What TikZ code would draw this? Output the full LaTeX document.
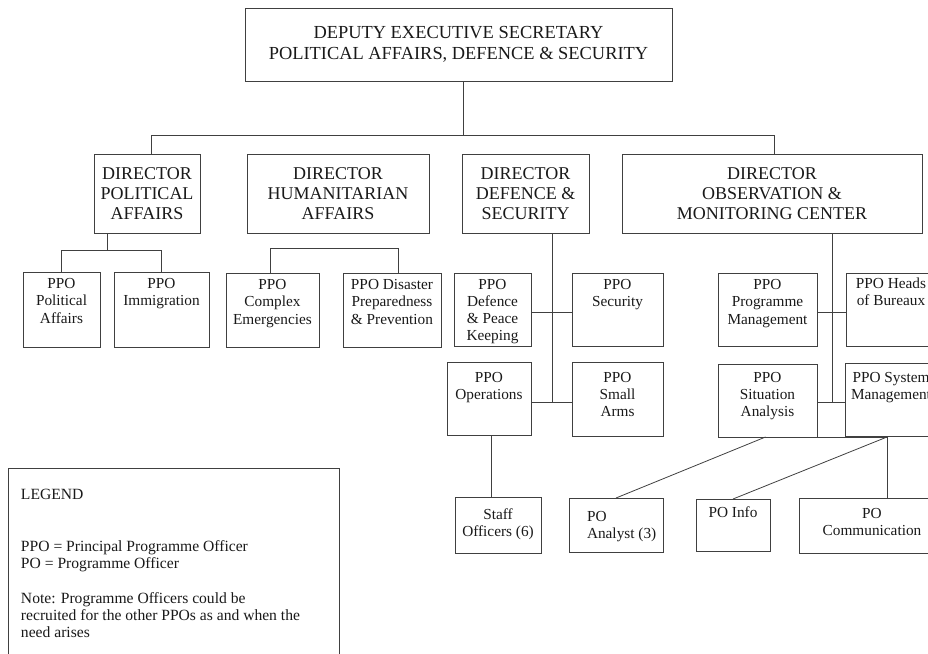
\documentclass[tikz,border=0pt]{standalone}
\usepackage{fontspec}
\setmainfont{Liberation Serif}
\newcommand{\TBox}[5][\centering]{\parbox[c][#3][t]{#2}{#1\rule{0pt}{#4}#5\par}}
\tikzset{
  ln/.style={line width=0.8pt, draw=black!75},
  bx/.style={draw=black!75, line width=0.8pt, inner sep=0pt, outer sep=0pt, anchor=north west, text=black!90},
  topf/.style={font=\fontsize{18.4}{21}\selectfont, align=center},
  dirf/.style={font=\fontsize{18}{20}\selectfont, align=center},
  smallf/.style={font=\fontsize{15.3}{17.3}\selectfont},
  legf/.style={font=\fontsize{15.6}{17.3}\selectfont},
}
\begin{document}
\begin{tikzpicture}[x=1pt,y=-1pt]
\useasboundingbox (0,0) rectangle (928,653);
\clip (0,0) rectangle (928,653);

% top
\node[bx, topf, minimum width=427pt, minimum height=73pt] (top) at (245,8)
  {DEPUTY EXECUTIVE SECRETARY\\POLITICAL AFFAIRS, DEFENCE \& SECURITY};

% directors
\node[bx, dirf, minimum width=106pt, minimum height=79pt] (dpa) at (94,154) {DIRECTOR\\POLITICAL\\AFFAIRS};
\node[bx, dirf, minimum width=182pt, minimum height=79pt] (dha) at (247,154) {DIRECTOR\\HUMANITARIAN\\AFFAIRS};
\node[bx, dirf, minimum width=127pt, minimum height=79pt] (dds) at (462,154) {DIRECTOR\\DEFENCE \&\\SECURITY};
\node[bx, dirf, minimum width=300pt, minimum height=79pt] (dom) at (622,154) {DIRECTOR\\OBSERVATION \&\\MONITORING CENTER};

% PPO row 1
\node[bx, smallf] (ppa) at (23,272) {\TBox{77pt}{75pt}{16.5pt}{PPO\\Political\\Affairs}};
\node[bx, smallf] (pim) at (114,272) {\TBox{95pt}{75pt}{16.5pt}{PPO\\Immigration}};
\node[bx, smallf] (pce) at (226,273) {\TBox{93pt}{74pt}{16.5pt}{PPO\\Complex\\Emergencies}};
\node[bx, smallf] (pdp) at (343,273) {\TBox{98pt}{74pt}{16.5pt}{PPO Disaster\\Preparedness\\\& Prevention}};
\node[bx, smallf] (pdk) at (454,273) {\TBox{77pt}{73pt}{16pt}{PPO\\Defence\\\& Peace\\Keeping}};
\node[bx, smallf] (psec) at (572,273) {\TBox{91pt}{73pt}{16pt}{PPO\\Security}};
\node[bx, smallf] (ppm) at (718,273) {\TBox{99pt}{73pt}{16.5pt}{PPO\\Programme\\Management}};
\node[bx, smallf] (phb) at (846,273) {\TBox{90pt}{73pt}{15pt}{PPO Heads\\of Bureaux}};

% PPO row 2
\node[bx, smallf] (pop) at (447,362) {\TBox{84pt}{73pt}{20pt}{PPO\\Operations}};
\node[bx, smallf] (psa) at (572,362) {\TBox{91pt}{74pt}{20pt}{PPO\\Small\\Arms}};
\node[bx, smallf] (psit) at (718,364) {\TBox{99pt}{73pt}{18pt}{PPO\\Situation\\Analysis}};
\node[bx, smallf] (psys) at (845,363) {\TBox{92pt}{73pt}{19pt}{PPO System\\Management}};

% bottom row
\node[bx, smallf] (staff) at (455,497) {\TBox{86pt}{56pt}{22pt}{Staff\\Officers (6)}};
\node[bx, smallf] (poa) at (569,498) {\TBox[\raggedright\leftskip=18pt]{94pt}{54pt}{23pt}{PO\\Analyst (3)}};
\node[bx, smallf] (poi) at (696,499) {\TBox{74pt}{52pt}{18pt}{PO Info}};
\node[bx, smallf] (poc) at (799,498) {\TBox{146pt}{55pt}{20pt}{PO\\Communication}};

% legend
\node[bx, legf] (leg) at (8,468) {\TBox[\raggedright\leftskip=13pt]{331pt}{232pt}{31pt}{LEGEND\\[34.7pt]PPO = Principal Programme Officer\\PO = Programme Officer\\[17.7pt]Note: Programme Officers could be\\recruited for the other PPOs as and when the\\need arises}};

% junction points
\coordinate (dsj1) at (552,312);
\coordinate (dsj2) at (552,402);
\coordinate (oj1) at (832,312);
\coordinate (oj2) at (832,402);
\coordinate (oj3) at (887,437);

% connectors
\draw[ln] ([xshift=4.5pt]top.south) -- ++(0,54);
\draw[ln] ([xshift=4pt]dpa.north) -- ++(0,-19) -| ([xshift=2pt]dom.north);

\draw[ln] ([xshift=-40pt]dpa.south) -- ++(0,17);
\draw[ln] (ppa.north) -- ++(0,-22) -| (pim.north);

\draw[ln] ([xshift=-2pt]pce.north) -- ++(0,-25) -| ([xshift=6pt]pdp.north);

\draw[ln] (dds.south -| dsj1) -- (dsj2);
\draw[ln] (pdk.east |- dsj1) -- (psec.west |- dsj1);
\draw[ln] (pop.east |- dsj2) -- (psa.west |- dsj2);
\draw[ln] ([xshift=2pt]pop.south) -- ([xshift=2pt]pop.south |- staff.north);

\draw[ln] (dom.south -| oj1) -- (oj2);
\draw[ln] (ppm.east |- oj1) -- (phb.west |- oj1);
\draw[ln] (psit.east |- oj2) -- (psys.west |- oj2);
\draw[ln] (psit.south east) -- (oj3) -- (oj3 |- poc.north);
\draw[ln] ([xshift=-2pt]psit.south) -- (poa.north);
\draw[ln] (oj3) -- (poi.north);
\end{tikzpicture}
\end{document}
